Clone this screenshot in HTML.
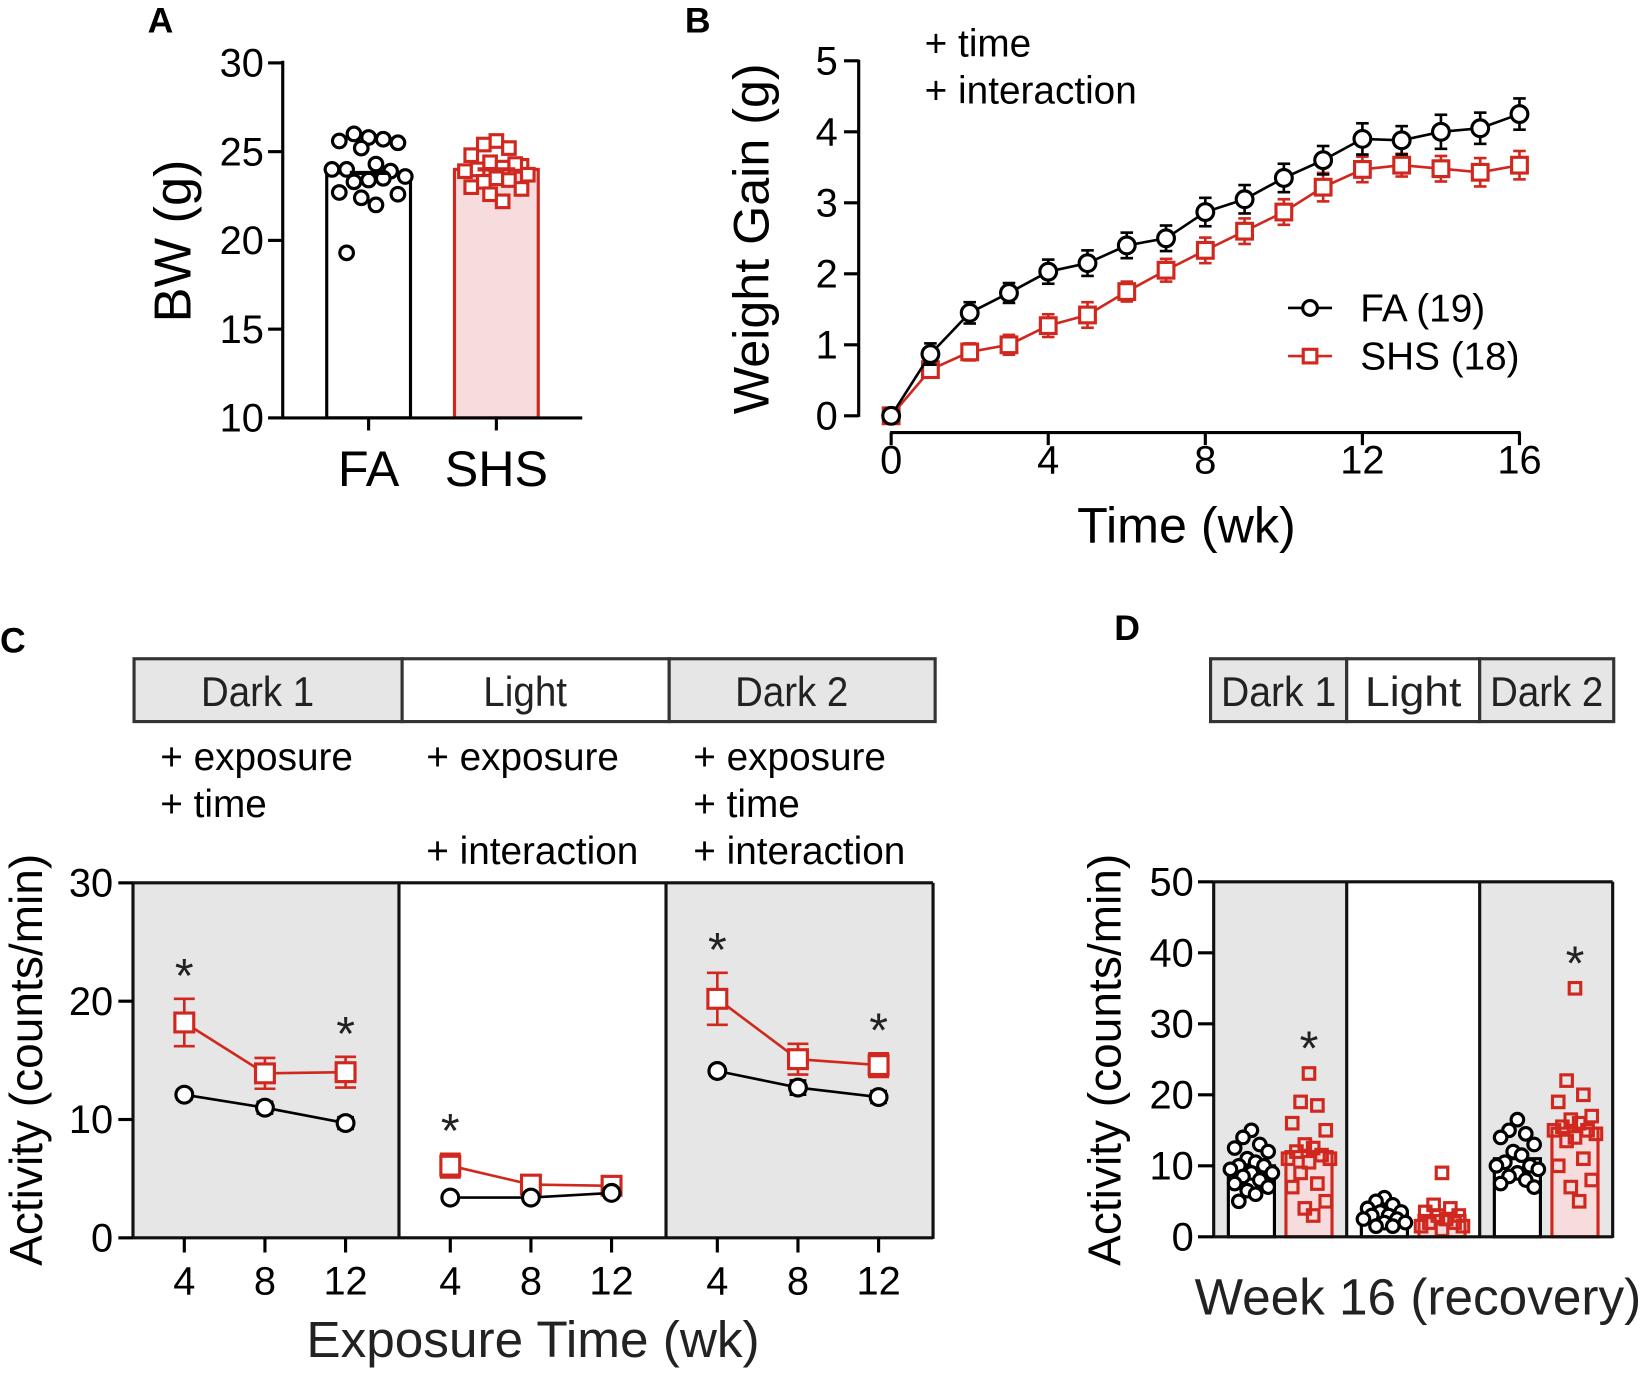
<!DOCTYPE html>
<html><head><meta charset="utf-8"><style>
html,body{margin:0;padding:0;background:#fff}
svg{display:block;font-family:"Liberation Sans",sans-serif}
</style></head><body>
<svg id="fig" width="1642" height="1373" viewBox="0 0 1568 1311" xmlns="http://www.w3.org/2000/svg">
<g font-weight="bold" font-size="34">
<text x="141" y="31">A</text>
<text x="654" y="31">B</text>
<text x="0" y="623">C</text>
<text x="1064" y="611">D</text>
</g>
</svg>
<script>
// ---------- DATA ----------
const aCats = ["FA","SHS"];
const aMeans = [23.8, 24.0];
const aFA = [25.8,26.0,25.7,25.6,25.5,25.2,24.3,24.0,23.9,24.0,23.6,23.4,23.3,23.5,22.7,22.6,22.4,22.0,19.3];
const aSHS = [25.6,25.4,25.2,24.8,24.2,24.4,24.1,24.0,24.3,23.9,23.7,23.5,23.3,23.4,23.0,22.9,22.6,22.2];
const aTicks = [10,15,20,25,30];

const bWeeks = [0,1,2,3,4,5,6,7,8,9,10,11,12,13,14,15,16];
const bFA = [0,0.87,1.45,1.73,2.03,2.15,2.4,2.5,2.87,3.05,3.35,3.6,3.9,3.88,4.0,4.05,4.25];
const bSHS = [0,0.65,0.9,1.0,1.27,1.42,1.75,2.05,2.33,2.6,2.87,3.22,3.47,3.53,3.48,3.43,3.53];
const bFAerr = [0.05,0.15,0.15,0.14,0.17,0.18,0.18,0.18,0.2,0.2,0.2,0.2,0.22,0.2,0.24,0.22,0.22];
const bSHSerr = [0.05,0.1,0.12,0.14,0.16,0.18,0.14,0.16,0.18,0.18,0.18,0.2,0.18,0.16,0.18,0.2,0.2];
const bXTicks = [0,4,8,12,16];
const bYTicks = [0,1,2,3,4,5];

const cPhases = ["Dark 1","Light","Dark 2"];
const cWeeks = [4,8,12];
const cFA = [[12.1,11.0,9.7],[3.4,3.4,3.8],[14.1,12.7,11.9]];
const cSHS = [[18.2,13.9,14.0],[6.1,4.5,4.4],[20.2,15.1,14.6]];
const cSHSerr = [[2.0,1.3,1.3],[1.0,0.5,0.4],[2.2,1.3,1.0]];
const cFAerr = [[0.4,0.5,0.5],[0.3,0.3,0.3],[0.4,0.6,0.5]];
const cStars = [[1,0,1],[1,0,0],[1,0,1]];
const cYTicks = [0,10,20,30];
const cNotes = [["+ exposure","+ time",""],["+ exposure","","+ interaction"],["+ exposure","+ time","+ interaction"]];

const dPhases = ["Dark 1","Light","Dark 2"];
const dFAmean = [10.0,3.3,11.0];
const dSHSmean = [12.0,3.0,15.3];
const dFApts = [[15,14,13,12.5,12,11,10.5,10,10,9.5,9,9,8.5,8,7.5,7,6.5,6,5],
  [5.5,5,4.5,4,3.5,3.5,3,3,2.5,2.5,2,2,1.5,1.5],
  [16.5,15,14.5,14,13,12,11.5,10.5,10,10,9.5,9,8.5,8,7.5,7]];
const dSHSpts = [[23,19,18.5,16,15,13,12.5,12,11.5,11,11,10.5,9,7.5,7,5,4,3],
  [9,4.5,4,3.5,3,3,2.5,2,2,1.5,1.5,1],
  [35,22,20,19,17,16.5,16,15.5,15,15,14.5,14,13.5,11,10,8,7,5]];
const dStars = [1,0,1];
const dYTicks = [0,10,20,30,40,50];

// ---------- HELPERS ----------
const NS="http://www.w3.org/2000/svg";
const svg=document.getElementById('fig');
const RED="#d0281e", PINK="#f6dcdc", GRAY="#e6e6e6";
const TICK=38;
function mk(tag,attrs,parent,txt){const e=document.createElementNS(NS,tag);for(const k in attrs)e.setAttribute(k,attrs[k]);if(txt!==undefined)e.textContent=txt;(parent||svg).appendChild(e);return e;}
function line(x1,y1,x2,y2,c,w,p){return mk('line',{x1,y1,x2,y2,stroke:c||'#000','stroke-width':w||3},p);}
function circ(x,y,r,p){return mk('circle',{cx:x,cy:y,r:r,fill:'#fff',stroke:'#000','stroke-width':3},p);}
function sq(x,y,s,p,fill){return mk('rect',{x:x-s/2,y:y-s/2,width:s,height:s,fill:fill||'#fff',stroke:RED,'stroke-width':3},p);}
function jit(i){const o=[0,-1,1,-2,2,-0.5,0.5,-1.5,1.5,-2.5,2.5];return o[i%o.length];}

// ---------- PANEL A ----------
(function(){
  const g=mk('g',{});
  const y=v=>399-(v-10)*(339/20);
  const cx=[352,474];
  aTicks.forEach(t=>{line(256,y(t),270,y(t),'#000',3,g);const tx=mk('text',{x:252,y:y(t)+13,'font-size':TICK,'text-anchor':'end'},g,t);});
  aMeans.forEach((m,i)=>{
    const b=mk('rect',{x:cx[i]-40,y:y(m),width:80,height:399-y(m),fill:i?PINK:'#fff',stroke:i?RED:'#000','stroke-width':3},g);
    
  });
  aFA.forEach((v,i)=>{const c=circ(352+jit(i)*14,y(v),6.5,g);});
  aSHS.forEach((v,i)=>{const s=sq(474+jit(i)*12,y(v),12,g);});
  aMeans.forEach((m,i)=>{line(cx[i]-18,y(m),cx[i]+18,y(m),i?RED:'#000',4,g);});
  line(270,58,270,400,'#000',3,g);line(269,399,556,399,'#000',3,g);
  cx.forEach((x,i)=>{line(x,399,x,411,'#000',3,g);const t=mk('text',{x:x,y:464,'font-size':48,'text-anchor':'middle'},g,aCats[i]);});
  const yt=mk('text',{x:0,y:0,'font-size':50,'text-anchor':'middle',transform:'translate(182,230) rotate(-90)'},g,'BW (g)');
  
})();

// ---------- PANEL B ----------
(function(){
  const g=mk('g',{});
  const x=v=>851+v*37.5, y=v=>397-v*67.8;
  line(820,57,820,398,'#000',3,g);
  bYTicks.forEach(t=>{line(806,y(t),820,y(t),'#000',3,g);const tx=mk('text',{x:800,y:y(t)+13,'font-size':TICK,'text-anchor':'end'},g,t);});
  line(850,413,1452,413,'#000',3,g);
  bXTicks.forEach(t=>{line(x(t),413,x(t),425,'#000',3,g);const tx=mk('text',{x:x(t),y:452,'font-size':TICK,'text-anchor':'middle'},g,t);});
  const ps=mk('polyline',{points:bWeeks.map((w,i)=>x(w)+','+y(bSHS[i])).join(' '),fill:'none',stroke:RED,'stroke-width':2.5},g);
  
  bWeeks.forEach((w,i)=>{const e=bSHSerr[i];line(x(w),y(bSHS[i]-e),x(w),y(bSHS[i]+e),RED,2.5,g);line(x(w)-6,y(bSHS[i]+e),x(w)+6,y(bSHS[i]+e),RED,2.5,g);line(x(w)-6,y(bSHS[i]-e),x(w)+6,y(bSHS[i]-e),RED,2.5,g);const s=sq(x(w),y(bSHS[i]),15,g);});
  const pf=mk('polyline',{points:bWeeks.map((w,i)=>x(w)+','+y(bFA[i])).join(' '),fill:'none',stroke:'#000','stroke-width':2.5},g);
  
  bWeeks.forEach((w,i)=>{const e=bFAerr[i];line(x(w),y(bFA[i]-e),x(w),y(bFA[i]+e),'#000',2.5,g);line(x(w)-6,y(bFA[i]+e),x(w)+6,y(bFA[i]+e),'#000',2.5,g);line(x(w)-6,y(bFA[i]-e),x(w)+6,y(bFA[i]-e),'#000',2.5,g);const c=circ(x(w),y(bFA[i]),8,g);});
  const xt=mk('text',{x:1133,y:518,'font-size':48,'text-anchor':'middle'},g,'Time (wk)');
  const yt=mk('text',{x:0,y:0,'font-size':48,'text-anchor':'middle',transform:'translate(734,228) rotate(-90)'},g,'Weight Gain (g)');
  const n1=mk('text',{x:883,y:54,'font-size':37},g,'+ time');
  const n2=mk('text',{x:883,y:99,'font-size':37},g,'+ interaction');
  const lg=mk('g',{},g);
  line(1230,294,1272,294,'#000',2.5,lg);circ(1251,294,7,lg);
  const l1=mk('text',{x:1299,y:307,'font-size':37},lg,'FA (19)');
  line(1230,340,1272,340,RED,2.5,lg);sq(1251,340,13,lg);
  const l2=mk('text',{x:1299,y:353,'font-size':37},lg,'SHS (18)');
})();

// ---------- PANEL C ----------
(function(){
  const g=mk('g',{});
  const y=v=>1182-v*(339/30);
  const edges=[127,381,636,891];
  const hx=[128,384,639,893];
  cPhases.forEach((p,k)=>{
    const r=mk('rect',{x:edges[k],y:843,width:edges[k+1]-edges[k],height:339,fill:k===1?'#fff':GRAY},g);
    
    const h=mk('rect',{x:hx[k],y:629,width:hx[k+1]-hx[k],height:60,fill:k===1?'#fff':GRAY,stroke:'#333','stroke-width':3},g);
    
    const ht=mk('text',{x:(hx[k]+hx[k+1])/2-10,y:674,'font-size':40,'text-anchor':'middle',fill:'#222',textLength:k===1?80:108,lengthAdjust:'spacingAndGlyphs'},g,p);
    cNotes[k].forEach((n,j)=>{if(!n)return;const t=mk('text',{x:edges[k]+26,y:735+j*45,'font-size':37},g,n);});
  });
  edges.forEach(e=>line(e,843,e,1183,'#111',3,g));
  line(127,843,891,843,'#111',3,g);line(127,1182,891,1182,'#111',3,g);
  cYTicks.forEach(t=>{line(113,y(t),127,y(t),'#000',3,g);const tx=mk('text',{x:108,y:y(t)+13,'font-size':TICK,'text-anchor':'end'},g,t);});
  cPhases.forEach((p,k)=>{
    const x=w=>edges[k]+49+(w-4)*19.25;
    cWeeks.forEach(w=>{line(x(w),1182,x(w),1196,'#000',3,g);const tx=mk('text',{x:x(w),y:1236,'font-size':TICK,'text-anchor':'middle'},g,w);});
    const ps=mk('polyline',{points:cWeeks.map((w,i)=>x(w)+','+y(cSHS[k][i])).join(' '),fill:'none',stroke:RED,'stroke-width':2.5},g);
    cWeeks.forEach((w,i)=>{const v=cSHS[k][i],e=cSHSerr[k][i];line(x(w),y(v-e),x(w),y(v+e),RED,2.5,g);line(x(w)-10,y(v+e),x(w)+10,y(v+e),RED,2.5,g);line(x(w)-10,y(v-e),x(w)+10,y(v-e),RED,2.5,g);const s=sq(x(w),y(v),18,g);});
    const pf=mk('polyline',{points:cWeeks.map((w,i)=>x(w)+','+y(cFA[k][i])).join(' '),fill:'none',stroke:'#000','stroke-width':2.5},g);
    cWeeks.forEach((w,i)=>{const v=cFA[k][i],e=cFAerr[k][i];line(x(w)-8,y(v+e),x(w)+8,y(v+e),'#000',2.5,g);line(x(w)-8,y(v-e),x(w)+8,y(v-e),'#000',2.5,g);const c=circ(x(w),y(v),8,g);});
    cWeeks.forEach((w,i)=>{if(!cStars[k][i])return;const v=cSHS[k][i]+cSHSerr[k][i];const s=mk('text',{x:x(w),y:y(v)-6,'font-size':46,'text-anchor':'middle',fill:'#222'},g,'*');});
  });
  const xt=mk('text',{x:509,y:1296,'font-size':49,'text-anchor':'middle',fill:'#222'},g,'Exposure Time (wk)');
  const yt=mk('text',{x:0,y:0,'font-size':44,'text-anchor':'middle',transform:'translate(40,1012) rotate(-90)'},g,'Activity (counts/min)');
})();

// ---------- PANEL D ----------
(function(){
  const g=mk('g',{});
  const y=v=>1181-v*(339/50);
  const edges=[1159,1286,1413,1540];
  const hx=[1156,1286,1413,1541];
  const hl=[110,92,108];
  dPhases.forEach((p,k)=>{
    const r=mk('rect',{x:edges[k],y:842,width:edges[k+1]-edges[k],height:339,fill:k===1?'#fff':GRAY},g);
    const h=mk('rect',{x:hx[k],y:629,width:hx[k+1]-hx[k],height:60,fill:k===1?'#fff':GRAY,stroke:'#333','stroke-width':3},g);
    const ht=mk('text',{x:(hx[k]+hx[k+1])/2,y:674,'font-size':40,'text-anchor':'middle',fill:'#222',textLength:hl[k],lengthAdjust:'spacingAndGlyphs'},g,p);
    const cf=edges[k]+36, cs=edges[k]+91;
    const bf=mk('rect',{x:cf-22,y:y(dFAmean[k]),width:44,height:1181-y(dFAmean[k]),fill:'#fff',stroke:'#000','stroke-width':3},g);
    const bs=mk('rect',{x:cs-22,y:y(dSHSmean[k]),width:44,height:1181-y(dSHSmean[k]),fill:PINK,stroke:RED,'stroke-width':3},g);
    dFApts[k].forEach((v,i)=>{const c=circ(cf+jit(i)*8,y(v),6,g);});
    dSHSpts[k].forEach((v,i)=>{const s=sq(cs+jit(i)*8,y(v),11,g,'none');});
    if(dStars[k]){const mx=Math.max(...dSHSpts[k]);const s=mk('text',{x:cs,y:y(mx)-8,'font-size':46,'text-anchor':'middle',fill:'#222'},g,'*');}
  });
  edges.forEach(e=>line(e,842,e,1182,'#111',3,g));
  line(1159,842,1540,842,'#111',3,g);line(1159,1181,1540,1181,'#111',3,g);
  dYTicks.forEach(t=>{line(1144,y(t),1159,y(t),'#000',3,g);const tx=mk('text',{x:1140,y:y(t)+13,'font-size':TICK,'text-anchor':'end'},g,t);});
  const xt=mk('text',{x:1354,y:1255,'font-size':49,'text-anchor':'middle',fill:'#222'},g,'Week 16 (recovery)');
  const yt=mk('text',{x:0,y:0,'font-size':44,'text-anchor':'middle',transform:'translate(1070,1012) rotate(-90)'},g,'Activity (counts/min)');
})();
</script>
</body></html>
